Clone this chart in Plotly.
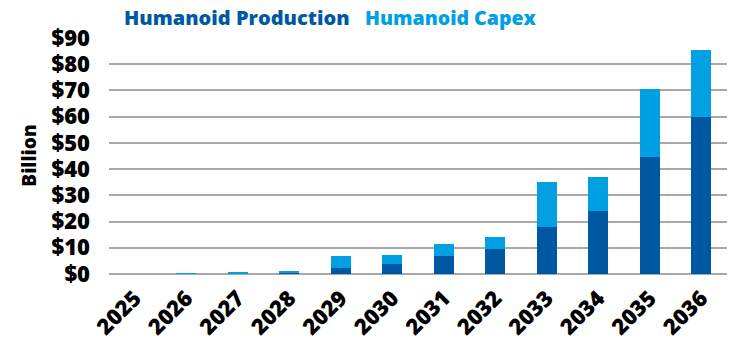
import plotly.graph_objects as go

years = ["2025", "2026", "2027", "2028", "2029", "2030", "2031", "2032", "2033", "2034", "2035", "2036"]
production = [0.0, 0.0, 0.2, 0.5, 2.2, 3.8, 6.9, 9.4, 17.9, 24.2, 44.5, 60.0]
capex = [0.0, 0.05, 0.3, 0.7, 4.8, 3.6, 4.5, 4.6, 17.1, 12.7, 26.0, 25.5]
y_ticks = [0, 10, 20, 30, 40, 50, 60, 70, 80, 90]
y_labels = ["$" + str(v) for v in y_ticks]

DARK = "#0058A3"
LIGHT = "#00A0E3"
FONT = "Open Sans"
W = 800

fig = go.Figure()
fig.add_trace(go.Bar(x=years, y=production, name="Humanoid Production",
                     marker=dict(color=DARK, line=dict(width=0))))
fig.add_trace(go.Bar(x=years, y=capex, name="Humanoid Capex",
                     marker=dict(color=LIGHT, line=dict(width=0))))

fig.update_layout(
    barmode="stack",
    bargap=0.61,
    width=745, height=357,
    margin=dict(l=109, r=18, t=38, b=83),
    plot_bgcolor="white", paper_bgcolor="white",
    showlegend=False,
    font=dict(family=FONT, color="black"),
)
fig.update_xaxes(
    automargin=False,
    tickangle=-45,
    tickfont=dict(family=FONT, size=22, color="black", weight=W),
    showgrid=False, showline=False, ticks="", ticklabelstandoff=6,
)
fig.update_yaxes(
    automargin=False,
    range=[0, 90],
    tickvals=y_ticks, ticktext=y_labels,
    tickfont=dict(family=FONT, size=22, color="black", weight=W),
    showgrid=True, gridcolor="#A8A8A8", gridwidth=1.5,
    zeroline=True, zerolinecolor="#A8A8A8", zerolinewidth=1.5,
    ticks="", ticklabelstandoff=18,
)
fig.add_annotation(xref="paper", yref="paper", x=-0.13, y=0.5,
                   xanchor="center", yanchor="middle", showarrow=False, textangle=-90,
                   text="Billion",
                   font=dict(family=FONT, size=19, color="black", weight=W))
fig.add_annotation(xref="paper", yref="paper", x=0.021, y=1.0, yshift=21,
                   xanchor="left", yanchor="middle", showarrow=False,
                   text="Humanoid Production",
                   font=dict(family=FONT, size=20, color=DARK, weight=W))
fig.add_annotation(xref="paper", yref="paper", x=0.411, y=1.0, yshift=21,
                   xanchor="left", yanchor="middle", showarrow=False,
                   text="Humanoid Capex",
                   font=dict(family=FONT, size=19.5, color=LIGHT, weight=W))

fig.write_html("out.html", config={"displayModeBar": False},
               post_script="document.body.style.margin='0';")
